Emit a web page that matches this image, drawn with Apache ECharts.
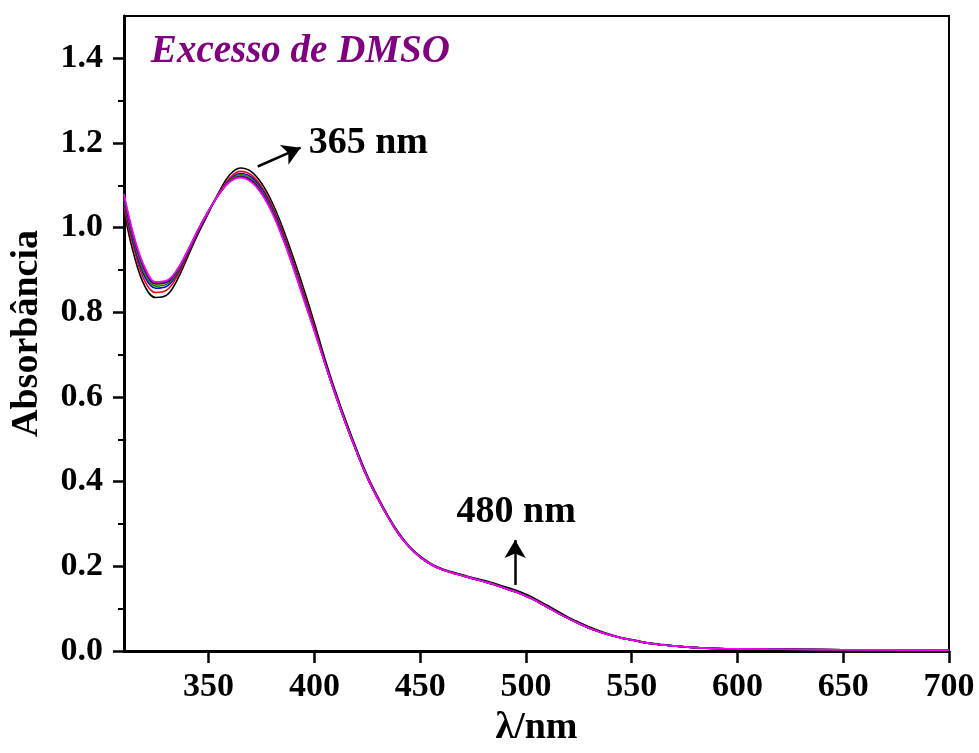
<!DOCTYPE html>
<html>
<head>
<meta charset="utf-8">
<script src="https://cdn.jsdelivr.net/npm/echarts@6/dist/echarts.min.js"></script>
<style>
html,body{margin:0;padding:0;background:#fff;}
#chart{width:979px;height:753px;}
</style>
</head>
<body>
<div id="chart"></div>
<script>
// ---- DATA ----
// wavelengths (nm)
var wlHead = [310,315,320,325,330,335,340,345,350,355,360,365,370,375,380,385,390,395,400];
var wlTail = [405,410,415,420,425,430,435,440,445,450,455,460,465,470,475,480,485,490,495,500,
              505,510,515,520,525,530,535,540,545,550,555,560,565,570,575,580,590,600,620,650,700];
// absorbance, 310-400 nm, per spectrum
var headBlack   = [1.04,0.93,0.86,0.835,0.84,0.875,0.93,0.985,1.035,1.085,1.125,1.141,1.133,1.105,1.06,1.0,0.93,0.855,0.775];
var headRed     = [1.05,0.945,0.872,0.847,0.852,0.884,0.935,0.99,1.037,1.082,1.117,1.133,1.125,1.097,1.052,0.992,0.92,0.845,0.767];
var headBlue    = [1.06,0.955,0.882,0.857,0.861,0.89,0.938,0.992,1.038,1.081,1.113,1.128,1.12,1.092,1.047,0.987,0.915,0.84,0.762];
var headGreen   = [1.066,0.962,0.889,0.862,0.866,0.893,0.94,0.993,1.039,1.08,1.111,1.125,1.116,1.088,1.043,0.983,0.912,0.837,0.76];
var headOlive   = [1.07,0.966,0.894,0.866,0.869,0.896,0.942,0.994,1.039,1.08,1.11,1.123,1.114,1.086,1.041,0.981,0.91,0.835,0.759];
var headNavy    = [1.073,0.969,0.898,0.868,0.871,0.897,0.943,0.994,1.04,1.08,1.109,1.121,1.112,1.084,1.039,0.979,0.908,0.833,0.758];
var headPurple  = [1.076,0.972,0.901,0.87,0.873,0.899,0.944,0.995,1.04,1.08,1.109,1.12,1.11,1.082,1.037,0.977,0.907,0.832,0.757];
var headMagenta = [1.08,0.975,0.905,0.872,0.875,0.9,0.945,0.995,1.04,1.08,1.108,1.118,1.108,1.08,1.035,0.975,0.905,0.83,0.755];
// absorbance, 405-700 nm (spectra overlap here)
var tailCommon = [0.68,0.605,0.535,0.47,0.41,0.36,0.315,0.275,0.245,0.222,0.205,0.193,0.185,0.178,0.171,0.164,0.157,0.148,0.14,0.13,
                  0.118,0.104,0.09,0.077,0.065,0.054,0.045,0.037,0.031,0.026,0.021,0.017,0.014,0.012,0.01,0.008,0.006,0.005,0.004,0.003,0.002];
var tailBlack  = [0.69,0.613,0.542,0.476,0.415,0.364,0.318,0.278,0.247,0.224,0.207,0.195,0.187,0.18,0.173,0.167,0.16,0.152,0.144,0.134,
                  0.122,0.108,0.094,0.08,0.068,0.057,0.047,0.039,0.032,0.027,0.022,0.018,0.015,0.012,0.01,0.008,0.006,0.005,0.004,0.003,0.002];
var seriesNames  = ['s1','s2','s3','s4','s5','s6','s7','s8'];
var seriesColors = ['#000000','#ff0000','#0000ff','#008000','#808000','#000080','#800080','#ff00ff'];
// axis ticks
var xTicks = [350,400,450,500,550,600,650,700];
var yTicks = [0,0.2,0.4,0.6,0.8,1.0,1.2,1.4];
var yMinorTicks = [0.1,0.3,0.5,0.7,0.9,1.1,1.3];
// annotations: [x0,y0,x1,y1] in data space
var arrow365 = [373.2,1.1445,393.5,1.189];
var arrow480 = [494.9,0.156,494.9,0.262];
var label365 = '365 nm';
var label480 = '480 nm';
var titleText = 'Excesso de DMSO';

// ---- BUILD ----
var wl = wlHead.concat(wlTail);
var heads = [headBlack,headRed,headBlue,headGreen,headOlive,headNavy,headPurple,headMagenta];
var tails = [tailBlack,tailCommon,tailCommon,tailCommon,tailCommon,tailCommon,tailCommon,tailCommon];
var FONT = '"Liberation Serif","Times New Roman",serif';

var series = heads.map(function(h,i){
  var vals = h.concat(tails[i]);
  return {
    name: seriesNames[i],
    type: 'line',
    data: wl.map(function(x,j){return [x, vals[j]];}),
    showSymbol: false,
    smooth: 0.4,
    lineStyle: {color: seriesColors[i], width: 1.6},
    z: 2 + i
  };
});
series.push({
  type: 'line', data: [], silent: true, z: 20,
  markLine: {
    silent: true,
    symbol: ['none','arrow'],
    symbolSize: [16,18],
    label: {show: false},
    lineStyle: {color: '#000', width: 2.5, type: 'solid'},
    data: [
      [{coord:[arrow365[0],arrow365[1]]},{coord:[arrow365[2],arrow365[3]]}],
      [{coord:[arrow480[0],arrow480[1]]},{coord:[arrow480[2],arrow480[3]]}]
    ]
  }
});

var chart = echarts.init(document.getElementById('chart'), null, {renderer:'canvas'});
var labelStyle = {color:'#000', fontFamily: FONT, fontWeight:'bold', fontSize: 34};
chart.setOption({
  animation: false,
  backgroundColor: '#fff',
  grid: {left:123, right:30, top:16, bottom:102, show:true, borderColor:'#000', borderWidth:2, backgroundColor:'transparent'},
  xAxis: {
    type:'value', min:310, max:700,
    name:'λ/nm', nameLocation:'middle', nameGap:58,
    nameTextStyle:{color:'#000', fontFamily:FONT, fontWeight:'bold', fontSize:38},
    axisLine:{show:true, lineStyle:{color:'#000', width:3}},
    axisTick:{show:true, length:12, lineStyle:{color:'#000', width:2.5}, customValues:xTicks},
    axisLabel:Object.assign({margin:19, customValues:xTicks}, labelStyle),
    splitLine:{show:false}
  },
  yAxis: [{
    type:'value', min:0, max:1.5,
    name:'Absorbância', nameLocation:'middle', nameGap:78,
    nameTextStyle:{color:'#000', fontFamily:FONT, fontWeight:'bold', fontSize:38},
    axisLine:{show:true, lineStyle:{color:'#000', width:3}},
    axisTick:{show:true, length:11, lineStyle:{color:'#000', width:2.5}, customValues:yTicks},
    axisLabel:Object.assign({margin:21, customValues:yTicks, formatter:function(v){return v.toFixed(1);}}, labelStyle),
    splitLine:{show:false}
  },{
    type:'value', min:0, max:1.5, position:'left',
    axisLine:{show:false},
    axisTick:{show:true, length:6, lineStyle:{color:'#000', width:2}, customValues:yMinorTicks},
    axisLabel:{show:false},
    splitLine:{show:false}
  }],
  series: series
});

function place(){
  var p365 = chart.convertToPixel({xAxisIndex:0,yAxisIndex:0},[397.3,1.199]);
  var p480 = chart.convertToPixel({xAxisIndex:0,yAxisIndex:0},[495.4,0.329]);
  var pT   = chart.convertToPixel({xAxisIndex:0,yAxisIndex:0},[322.7,1.416]);
  chart.setOption({graphic:[
    {type:'text', x:pT[0], y:pT[1], z:50, style:{text:titleText, fill:'#800080', font:'italic bold 39px '+FONT, textAlign:'left', textVerticalAlign:'middle'}},
    {type:'text', x:p365[0], y:p365[1], z:50, style:{text:label365, fill:'#000', font:'bold 38px '+FONT, textAlign:'left', textVerticalAlign:'middle'}},
    {type:'text', x:p480[0], y:p480[1], z:50, style:{text:label480, fill:'#000', font:'bold 38px '+FONT, textAlign:'center', textVerticalAlign:'middle'}}
  ]});
}
place();
</script>
</body>
</html>
